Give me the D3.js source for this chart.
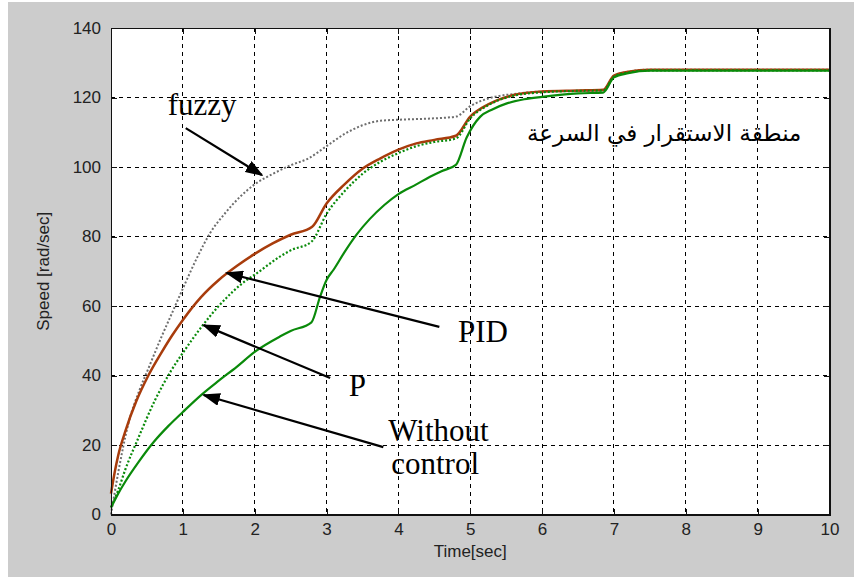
<!DOCTYPE html>
<html>
<head>
<meta charset="utf-8">
<script src="https://cdn.jsdelivr.net/npm/d3@7"></script>
<style>
  body { margin: 0; background: #fff; }
  svg { display: block; }
  .tick text { font-family: "Liberation Sans", Arial, sans-serif; font-size: 17px; fill: #222; }
  .note { font-family: "Liberation Serif", "Times New Roman", serif; font-size: 31px; fill: #000; }
  .grid, .tick line, .domain, .frame { shape-rendering: crispEdges; }
</style>
</head>
<body>
<div id="graph"></div>
<script>
// time axis [sec] and speed [rad/sec]
var fuzzyT = [0, 0.1, 0.24, 0.4, 0.52, 0.7, 0.85, 1.0, 1.2, 1.38, 1.6, 1.8, 2.0, 2.25, 2.5, 2.75, 3.0, 3.25, 3.5, 3.75, 4.0, 4.5, 4.8, 5.0, 5.3, 5.6, 6.0, 6.85, 7.0, 7.2, 7.5, 10];
var fuzzyV = [0, 12, 26, 36, 42, 51, 58, 65, 74, 81, 87, 91.5, 95, 98, 100.5, 102.5, 106, 109.5, 112, 113.3, 113.6, 114, 114.5, 117.5, 120, 121, 121.7, 122, 126, 127.4, 128, 128];

var pidT = [0, 0.05, 0.1, 0.2, 0.35, 0.52, 0.7, 0.85, 1.0, 1.25, 1.5, 1.75, 2.0, 2.25, 2.5, 2.8, 3.0, 3.25, 3.5, 3.75, 4.0, 4.25, 4.5, 4.8, 5.0, 5.25, 5.6, 6.0, 6.5, 6.85, 7.0, 7.2, 7.5, 10];
var pidV = [6, 12, 17, 24, 32.5, 40, 46.5, 51.5, 56, 62.5, 67.5, 71.5, 75, 78, 80.5, 82.8, 89.5, 95, 99.5, 102.5, 105, 106.8, 107.8, 109, 114.5, 118, 120.7, 121.7, 122, 122.2, 126.3, 127.4, 128, 128];

var pT = [0, 0.1, 0.2, 0.38, 0.61, 0.84, 1.0, 1.26, 1.5, 1.89, 2.0, 2.35, 2.5, 2.79, 3.0, 3.25, 3.5, 3.75, 4.0, 4.25, 4.5, 4.8, 5.0, 5.25, 5.6, 6.0, 6.5, 6.85, 7.0, 7.2, 7.5, 10];
var pV = [2, 7, 13, 22, 32.8, 41.5, 46.5, 54, 60, 67.5, 69, 74.2, 76, 78.5, 86.5, 93, 98, 101.5, 104, 106, 107.2, 108.2, 114, 117.8, 120.5, 121.5, 121.9, 122, 126, 127.2, 127.8, 127.8];

var noCtrlT = [0, 0.1, 0.2, 0.38, 0.6, 0.8, 1.0, 1.25, 1.5, 1.75, 2.0, 2.35, 2.5, 2.79, 2.91, 3.0, 3.1, 3.25, 3.42, 3.6, 3.8, 4.0, 4.25, 4.44, 4.6, 4.8, 4.95, 5.14, 5.3, 5.51, 5.75, 6.0, 6.5, 6.85, 7.0, 7.2, 7.5, 10];
var noCtrlV = [2, 6, 9.5, 15, 21, 25.5, 29.5, 34.3, 38.5, 42.5, 46.8, 51.2, 52.8, 55.3, 62.7, 67.5, 70.5, 75.5, 80.6, 85, 89, 92.2, 95, 97.2, 98.8, 100.6, 108.5, 114.5, 116.5, 118.3, 119.5, 120.2, 121.2, 121.4, 125.8, 127, 127.7, 127.7];

var xTicks = [0, 1, 2, 3, 4, 5, 6, 7, 8, 9, 10];
var yTicks = [0, 20, 40, 60, 80, 100, 120, 140];

// annotation text and arrows, in data units
var labels = [
  { text: "fuzzy", t: 0.79, v: 115 },
  { text: "PID", t: 4.83, v: 49.6 },
  { text: "P", t: 3.31, v: 34.1 },
  { text: "Without", t: 3.86, v: 21.2 },
  { text: "control", t: 3.90, v: 11.6 }
];
var arrows = [
  { from: [1.04, 111.2], to: [2.10, 97.7] },
  { from: [4.57, 54.0], to: [1.61, 69.5] },
  { from: [3.05, 39.3], to: [1.29, 54.5] },
  { from: [3.79, 19.4], to: [1.29, 34.4] }
];
var arabicNote = { text: "منطقة الاستقرار في السرعة", t: 7.70, v: 107.5 };

var W = 861, H = 579,
  margin = { top: 28, left: 111, right: 31.5, bottom: 64.5 },
  width = W - margin.left - margin.right,
  height = H - margin.top - margin.bottom;

var svg = d3.select("#graph").append("svg").attr("width", W).attr("height", H);

svg.append("rect").attr("x", 8).attr("y", 2).attr("width", 846).attr("height", 575).attr("fill", "#cccccc");

var g = svg.append("g").attr("transform", "translate(" + margin.left + "," + margin.top + ")");

var x = d3.scaleLinear().domain([0, 10]).range([0, width]);
var y = d3.scaleLinear().domain([0, 140]).range([height, 0]);

g.append("rect").attr("width", width).attr("height", height).attr("fill", "#fff");

// dashed grid
g.selectAll(".gx").data(xTicks.slice(1, -1)).enter().append("line")
  .attr("class", "grid")
  .attr("x1", d => x(d)).attr("x2", d => x(d)).attr("y1", 0).attr("y2", height)
  .attr("stroke", "#000").attr("stroke-dasharray", "4,4");
g.selectAll(".gy").data(yTicks.slice(1, -1)).enter().append("line")
  .attr("class", "grid")
  .attr("x1", 0).attr("x2", width).attr("y1", d => y(d)).attr("y2", d => y(d))
  .attr("stroke", "#000").attr("stroke-dasharray", "4,4");

var line = d3.line().x(d => x(d[0])).y(d => y(d[1])).curve(d3.curveMonotoneX);
var zip = (a, b) => a.map((t, i) => [t, b[i]]);

var series = [
  { data: zip(fuzzyT, fuzzyV), color: "#6e6e6e", w: 2, dash: "2,2" },
  { data: zip(pidT, pidV), color: "#a83c0c", w: 2.5, dash: null },
  { data: zip(pT, pV), color: "#0a8a0a", w: 2.2, dash: "2,2" },
  { data: zip(noCtrlT, noCtrlV), color: "#0a8a0a", w: 2.2, dash: null }
];

g.selectAll(".series").data(series).enter().append("path")
  .attr("d", d => line(d.data))
  .attr("fill", "none")
  .attr("stroke", d => d.color)
  .attr("stroke-width", d => d.w)
  .attr("stroke-dasharray", d => d.dash);

// axes, MATLAB style ticks pointing in
g.append("g").attr("transform", "translate(0," + height + ")")
  .call(d3.axisBottom(x).tickValues(xTicks).tickSize(-6).tickPadding(8));
g.append("g").call(d3.axisTop(x).tickValues(xTicks).tickSize(-6).tickFormat(""));
g.append("g").call(d3.axisLeft(y).tickValues(yTicks).tickSize(-6).tickPadding(10));
g.append("g").attr("transform", "translate(" + width + ",0)")
  .call(d3.axisRight(y).tickValues(yTicks).tickSize(-6).tickFormat(""));
g.selectAll(".domain").attr("stroke", "#111");
g.selectAll(".tick line").attr("stroke", "#111");

g.append("rect").attr("class", "frame").attr("width", width).attr("height", height)
  .attr("fill", "none").attr("stroke", "#111");

svg.append("text")
  .attr("x", margin.left + width / 2).attr("y", 557)
  .attr("text-anchor", "middle")
  .style("font-family", "Liberation Sans, Arial, sans-serif").style("font-size", "17px").style("fill", "#222")
  .text("Time[sec]");

svg.append("text")
  .attr("transform", "translate(49," + (margin.top + height / 2) + ") rotate(-90)")
  .attr("text-anchor", "middle")
  .style("font-family", "Liberation Sans, Arial, sans-serif").style("font-size", "17px").style("fill", "#222")
  .text("Speed [rad/sec]");

// annotations
svg.append("defs").append("marker")
  .attr("id", "head").attr("viewBox", "0 0 10 10")
  .attr("refX", 9).attr("refY", 5)
  .attr("markerWidth", 18).attr("markerHeight", 13)
  .attr("preserveAspectRatio", "none")
  .attr("markerUnits", "userSpaceOnUse").attr("orient", "auto")
  .append("path").attr("d", "M0,0L10,5L0,10Z").attr("fill", "#000");

g.selectAll(".arrow").data(arrows).enter().append("line")
  .attr("x1", d => x(d.from[0])).attr("y1", d => y(d.from[1]))
  .attr("x2", d => x(d.to[0])).attr("y2", d => y(d.to[1]))
  .attr("stroke", "#000").attr("stroke-width", 2.2)
  .attr("marker-end", "url(#head)");

g.selectAll(".note").data(labels).enter().append("text")
  .attr("class", "note")
  .attr("x", d => x(d.t)).attr("y", d => y(d.v))
  .text(d => d.text);

g.append("text")
  .attr("x", x(arabicNote.t)).attr("y", y(arabicNote.v))
  .attr("text-anchor", "middle")
  .style("font-family", "DejaVu Sans, sans-serif").style("font-size", "23px").style("fill", "#000")
  .text(arabicNote.text);
</script>
</body>
</html>
